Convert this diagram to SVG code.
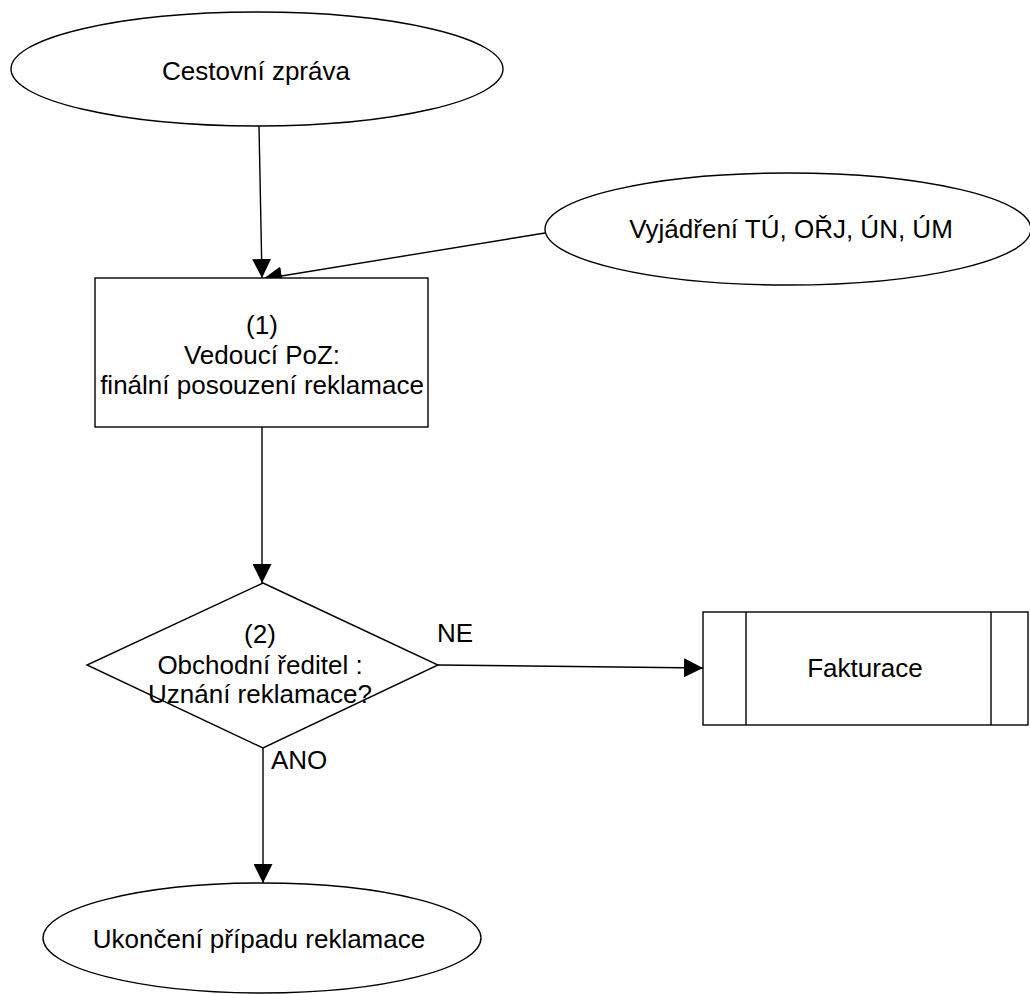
<svg xmlns="http://www.w3.org/2000/svg" width="1030" height="994" viewBox="0 0 1030 994">
<style>
.s{fill:#fff;stroke:#000;stroke-width:1.4}
.t{font-family:"Liberation Sans",Arial,sans-serif;font-size:26px;fill:#000;text-anchor:middle}
.l{font-family:"Liberation Sans",Arial,sans-serif;font-size:26px;fill:#000}
.c{fill:none;stroke:#000;stroke-width:1.4}
</style>
<defs>
<marker id="a" markerWidth="19" markerHeight="19" refX="19" refY="9.5" orient="auto" markerUnits="userSpaceOnUse">
<path d="M0,0 L19,9.5 L0,19 Z" fill="#000"/>
</marker>
</defs>
<rect width="1030" height="994" fill="#fff"/>
<g id="connectors">
<line class="c" x1="259" y1="126" x2="262" y2="278" marker-end="url(#a)"/>
<line class="c" x1="545" y1="233" x2="263" y2="279" marker-end="url(#a)"/>
<line class="c" x1="262" y1="427" x2="262" y2="583" marker-end="url(#a)"/>
<line class="c" x1="438" y1="665" x2="703" y2="668" marker-end="url(#a)"/>
<line class="c" x1="263" y1="748" x2="263" y2="883" marker-end="url(#a)"/>
</g>
<g id="n1">
<ellipse class="s" cx="257" cy="69" rx="246" ry="57"/>
<text class="t" x="256" y="80">Cestovní zpráva</text>
</g>
<g id="n2">
<ellipse class="s" cx="788" cy="229" rx="243" ry="56"/>
<text class="t" x="791" y="238">Vyjádření TÚ, OŘJ, ÚN, ÚM</text>
</g>
<g id="n3">
<rect class="s" x="95" y="278" width="333" height="149"/>
<text class="t" x="262" y="334">(1)</text>
<text class="t" x="262" y="364">Vedoucí PoZ:</text>
<text class="t" x="262" y="394">finální posouzení reklamace</text>
</g>
<g id="n4">
<polygon class="s" points="263,583 438,665 263,748 87,665"/>
<text class="t" x="260" y="643">(2)</text>
<text class="t" x="260" y="674">Obchodní ředitel :</text>
<text class="t" x="260" y="703">Uznání reklamace?</text>
</g>
<g id="n5">
<rect class="s" x="703" y="612" width="325" height="113"/>
<line class="c" x1="746" y1="612" x2="746" y2="725"/>
<line class="c" x1="991" y1="612" x2="991" y2="725"/>
<text class="t" x="865" y="677">Fakturace</text>
</g>
<g id="n6">
<ellipse class="s" cx="262" cy="938" rx="219" ry="55"/>
<text class="t" x="259" y="948">Ukončení případu reklamace</text>
</g>
<g id="labels">
<text class="l" x="437" y="642">NE</text>
<text class="l" x="271" y="769">ANO</text>
</g>
</svg>
